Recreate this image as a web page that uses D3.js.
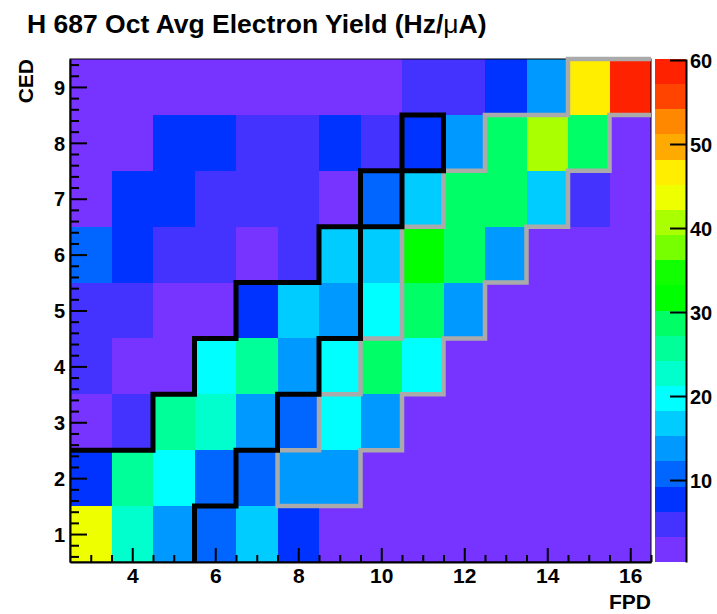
<!DOCTYPE html>
<html>
<head>
<meta charset="utf-8">
<script src="https://cdn.jsdelivr.net/npm/d3@7"></script>
<style>
  body { margin: 0; background: #fff; }
  svg text { font-family: "Liberation Sans", Arial, Helvetica, sans-serif; font-weight: bold; fill: #000; }
</style>
</head>
<body>
<svg id="chart" width="717" height="614"></svg>
<script>
// FPD bins (x) and CED bins (y)
const fpdBins = [3, 4, 5, 6, 7, 8, 9, 10, 11, 12, 13, 14, 15, 16];
const cedBins = [1, 2, 3, 4, 5, 6, 7, 8, 9];

// Octant-averaged electron yield (Hz/uA), one array per CED bin, FPD 3..16
const yieldCed1 = [43.7, 22.7, 13.7, 10.7, 16.7, 7.7, 1.6, 1.2, 0.9, 0.7, 0.6, 0.5, 0.4, 0.3];
const yieldCed2 = [7.7, 25.7, 19.7, 10.7, 10.7, 13.7, 13.7, 1.3, 1.0, 0.8, 0.6, 0.5, 0.4, 0.3];
const yieldCed3 = [2.2, 4.7, 25.7, 22.7, 13.7, 10.7, 19.7, 13.7, 1.1, 0.9, 0.7, 0.5, 0.4, 0.24];
const yieldCed4 = [4.7, 2.4, 2.6, 19.7, 25.7, 13.7, 19.7, 28.7, 19.7, 1.0, 0.8, 0.6, 0.5, 0.4];
const yieldCed5 = [4.7, 4.7, 2.5, 2.8, 7.7, 16.7, 13.7, 19.7, 28.7, 13.7, 1.1, 0.9, 0.7, 0.5];
const yieldCed6 = [10.7, 7.7, 4.7, 4.7, 2.9, 4.7, 16.7, 16.7, 32.0, 28.7, 13.7, 1.2, 0.9, 0.7];
const yieldCed7 = [2.3, 7.7, 7.7, 4.7, 4.7, 4.7, 2.9, 10.7, 16.7, 28.7, 28.7, 16.7, 4.7, 1.0];
const yieldCed8 = [2.0, 2.2, 7.7, 7.7, 4.7, 4.7, 7.7, 4.7, 7.7, 13.7, 28.7, 40.7, 28.7, 1.4];
const yieldCed9 = [1.5, 1.6, 1.8, 2.0, 2.1, 2.3, 2.5, 2.7, 4.7, 4.7, 7.7, 13.7, 46.7, 60.12];

// Bin-edge outlines (FPD edge, CED edge)
const blackOutline = [[2.5, 2.5], [4.5, 2.5], [4.5, 3.5], [5.5, 3.5], [5.5, 4.5], [6.5, 4.5], [6.5, 5.5],
  [8.5, 5.5], [8.5, 6.5], [10.5, 6.5], [10.5, 8.5], [11.5, 8.5], [11.5, 7.5], [9.5, 7.5], [9.5, 4.5],
  [8.5, 4.5], [8.5, 3.5], [7.5, 3.5], [7.5, 2.5], [6.5, 2.5], [6.5, 1.5], [5.5, 1.5], [5.5, 0.5]];
const grayOutline = [[16.5, 8.5], [15.5, 8.5], [15.5, 7.5], [14.5, 7.5], [14.5, 6.5], [13.5, 6.5],
  [13.5, 5.5], [12.5, 5.5], [12.5, 4.5], [11.5, 4.5], [11.5, 3.5], [10.5, 3.5], [10.5, 2.5], [9.5, 2.5],
  [9.5, 1.5], [7.5, 1.5], [7.5, 2.5], [8.5, 2.5], [8.5, 3.5], [9.5, 3.5], [9.5, 4.5], [10.5, 4.5],
  [10.5, 6.5], [11.5, 6.5], [11.5, 7.5], [12.5, 7.5], [12.5, 8.5], [14.5, 8.5], [14.5, 9.5], [16.5, 9.5]];

// 20-level rainbow palette, violet -> red
const paletteColors = ["#7733ff", "#4433ff", "#0033ff", "#0066ff", "#0099ff", "#00ccff", "#00ffff",
  "#00ffcc", "#00ff99", "#00ff66", "#00ff00", "#11ff00", "#77ff00", "#aaff00", "#eeff00", "#ffee00",
  "#ffaa00", "#ff8800", "#ff4400", "#ff2200"];

const xTicks = [4, 6, 8, 10, 12, 14, 16];
const yTicks = [1, 2, 3, 4, 5, 6, 7, 8, 9];
const zTicks = [10, 20, 30, 40, 50, 60];

const rows = [yieldCed1, yieldCed2, yieldCed3, yieldCed4, yieldCed5, yieldCed6, yieldCed7, yieldCed8, yieldCed9];
const cells = [];
rows.forEach((row, j) => row.forEach((v, i) => cells.push({ fpd: fpdBins[i], ced: cedBins[j], v })));

const svg = d3.select("#chart");
const plotL = 70, plotR = 651, plotT = 59, plotB = 562;

const x = d3.scaleLinear().domain([2.5, 16.5]).range([plotL, plotR]);
const y = d3.scaleLinear().domain([0.5, 9.5]).range([plotB, plotT]);

const zMin = d3.min(cells, d => d.v), zMax = d3.max(cells, d => d.v);
const nLevels = paletteColors.length;
const zStep = (zMax - zMin) / nLevels;
const z = d3.scaleLinear().domain([zMin, zMax]).range([plotB, plotT]);
const colorOf = v => paletteColors[Math.max(0, Math.min(nLevels - 1, Math.floor((v - zMin) / zStep)))];

// cells
svg.append("g").selectAll("rect").data(cells).join("rect")
  .attr("x", d => x(d.fpd - 0.5))
  .attr("y", d => y(d.ced + 0.5))
  .attr("width", d => x(d.fpd + 0.5) - x(d.fpd - 0.5))
  .attr("height", d => y(d.ced - 0.5) - y(d.ced + 0.5))
  .attr("fill", d => colorOf(d.v))
  .attr("shape-rendering", "crispEdges");

// frame
svg.append("rect").attr("x", plotL).attr("y", plotT).attr("width", plotR - plotL).attr("height", plotB - plotT)
  .attr("fill", "none").attr("stroke", "#000").attr("stroke-width", 1);

// x axis
const xMinor = d3.range(3, 16.51, 0.5).filter(v => v % 2 !== 0);
const gx = svg.append("g").attr("transform", `translate(0,${plotB})`);
gx.call(d3.axisBottom(x).tickValues(xMinor).tickSizeInner(-7).tickSizeOuter(0).tickFormat(""));
gx.selectAll("line").attr("stroke-width", 2);
const gx2 = svg.append("g").attr("transform", `translate(0,${plotB})`);
gx2.call(d3.axisBottom(x).tickValues(xTicks).tickSizeInner(-14).tickSizeOuter(0).tickPadding(6).tickFormat(d3.format("d")));
gx2.selectAll("line").attr("stroke-width", 2);
gx2.select(".domain").attr("stroke-width", 2);
gx2.selectAll("text").attr("font-size", 21).attr("font-family", null).attr("dy", null).attr("y", 21);

// y axis
const yMinor = d3.range(0.6, 9.5, 0.2).filter(v => Math.abs(v - Math.round(v)) > 0.05);
const gy = svg.append("g").attr("transform", `translate(${plotL},0)`);
gy.call(d3.axisLeft(y).tickValues(yMinor).tickSizeInner(-9).tickSizeOuter(0).tickFormat(""));
gy.selectAll("line").attr("stroke-width", 2);
const gy2 = svg.append("g").attr("transform", `translate(${plotL},0)`);
gy2.call(d3.axisLeft(y).tickValues(yTicks).tickSizeInner(-17).tickSizeOuter(0).tickPadding(5).tickFormat(d3.format("d")));
gy2.selectAll("line").attr("stroke-width", 2);
gy2.select(".domain").attr("stroke-width", 2);
gy2.selectAll("text").attr("font-size", 20).attr("font-family", null).attr("dy", "0.36em");

// colour bar
const cbL = 655, cbR = 686;
svg.append("g").selectAll("rect").data(paletteColors).join("rect")
  .attr("x", cbL)
  .attr("y", (c, k) => z(zMin + (k + 1) * zStep))
  .attr("width", cbR - cbL)
  .attr("height", (c, k) => z(zMin + k * zStep) - z(zMin + (k + 1) * zStep))
  .attr("fill", c => c)
  .attr("shape-rendering", "crispEdges");
const gz = svg.append("g").attr("transform", `translate(${cbR},0)`);
gz.call(d3.axisRight(z).tickValues(zTicks).tickSizeInner(-16).tickSizeOuter(0).tickPadding(4).tickFormat(d3.format("d")));
gz.selectAll("line").attr("stroke-width", 2);
gz.select(".domain").attr("stroke-width", 2);
gz.selectAll("text").attr("font-size", 20).attr("font-family", null).attr("dy", "0.36em").attr("x", 4);

svg.selectAll(".domain").attr("stroke", "#000");

// outlines
const line = d3.line().x(d => x(d[0])).y(d => y(d[1]));
svg.append("path").attr("d", line(grayOutline)).attr("fill", "none")
  .attr("stroke", "#aaaaaa").attr("stroke-width", 4.5).attr("stroke-linejoin", "miter");
svg.append("path").attr("d", line(blackOutline)).attr("fill", "none")
  .attr("stroke", "#000").attr("stroke-width", 5).attr("stroke-linejoin", "miter");

// titles
const title = svg.append("text").attr("x", 27).attr("y", 33).attr("font-size", 26.5);
title.append("tspan").text("H 687 Oct Avg Electron Yield (Hz/");
title.append("tspan").attr("font-weight", "normal").text("μ");
title.append("tspan").text("A)");

svg.append("text").attr("x", plotR).attr("y", 609).attr("text-anchor", "end").attr("font-size", 21).text("FPD");
svg.append("text").attr("transform", `translate(33,${plotT}) rotate(-90)`).attr("text-anchor", "end")
  .attr("font-size", 21).text("CED");
</script>
</body>
</html>
